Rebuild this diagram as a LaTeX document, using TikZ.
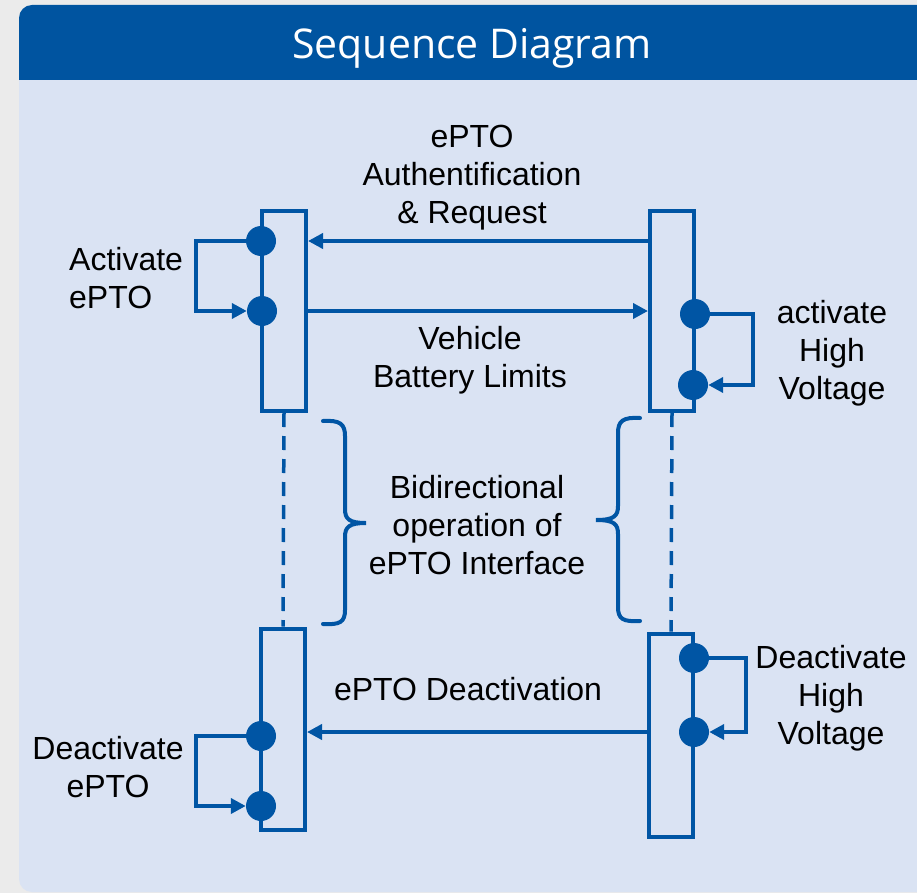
\documentclass[tikz,border=0pt]{standalone}
\usepackage{fontspec}
\setmainfont{Liberation Sans}
\newfontfamily\headfont{Open Sans}
\usetikzlibrary{arrows.meta}
\definecolor{deepblue}{HTML}{0054A0}
\definecolor{lineblue}{HTML}{0055A4}
\definecolor{paleblue}{HTML}{DAE3F3}
\definecolor{mist}{HTML}{EBEBEB}

\begin{document}
\begin{tikzpicture}[x=1pt,y=-1pt,
  lbl/.style={font=\fontsize{32}{38}\selectfont,align=center,text=black,inner sep=0pt},
  life/.style={draw=lineblue,line width=4pt,minimum width=44pt,inner sep=0pt},
  dot/.style={circle,fill=lineblue,minimum size=30pt,inner sep=0pt},
  msg/.style={-{Triangle[length=15pt,width=15pt]},line width=4pt,draw=lineblue},
  trail/.style={draw=lineblue,line width=3.5pt,dash pattern=on 14pt off 9pt},
  brc/.style={draw=lineblue,line width=4pt,line cap=round},
]
\useasboundingbox (0,0) rectangle (917,893);
\clip (0,0) rectangle (917,893);

% Panel with header bar.
\fill[mist] (0,0) rectangle (917,893);
\fill[deepblue,rounded corners=13pt] (19,5) rectangle (940,100);
\fill[paleblue] (19,80) rectangle (940,860);
\fill[paleblue,rounded corners=13pt] (19,800) rectangle (940,892);
\node[font=\headfont\fontsize{41}{48}\selectfont,text=white] (title) at (472,48)
  {Sequence Diagram};

% Activation boxes.
\node[life,minimum height=200pt] (ltop) at (284,311) {};
\node[life,minimum height=200pt] (rtop) at (672,311) {};
\node[life,minimum height=201pt] (lbot) at (283,729) {};
\node[life,minimum height=203pt] (rbot) at (671,735) {};

% Lifelines between them.
\draw[trail] (ltop.south) -- (lbot.north);
\draw[trail] (rtop.south) -- (rbot.north);

% Event dots on the box edges.
\node[dot] (lt1) at (261,241) {};
\node[dot] (lt2) at (262,311) {};
\node[dot] (rt1) at (695,314) {};
\node[dot] (rt2) at (693,385) {};
\node[dot] (lb1) at (261,736) {};
\node[dot] (lb2) at (261,806) {};
\node[dot] (rb1) at (694,658) {};
\node[dot] (rb2) at (694,732) {};

% Self messages.
\draw[msg] (lt1.west) -- ++(-50,0) |- (lt2);
\draw[msg] (rt1.east) -- ++(43,0) |- (rt2);
\draw[msg] (lb1.west) -- ++(-50,0) |- (lb2);
\draw[msg] (rb1.east) -- ++(37,0) |- (rb2);

% Messages between the two sides.
\draw[msg] (rtop.west |- lt1) -- (ltop.east |- lt1);
\draw[msg] (ltop.east |- lt2) -- (rtop.west |- lt2);
\draw[msg] (rbot.west |- rb2) -- (lbot.east |- rb2);

% Braces round the middle phase.
\draw[brc] (323,421) .. controls (340,420) and (345,424) .. (345,436)
  -- (345,509) .. controls (345,519) and (349,523) .. (366,523)
  .. controls (349,523) and (345,527) .. (345,537)
  -- (345,610) .. controls (345,622) and (340,625) .. (323,624);
\draw[brc] (640,418) .. controls (623,417) and (618,421) .. (618,433)
  -- (618,506) .. controls (618,516) and (614,520) .. (596,520)
  .. controls (614,520) and (618,524) .. (618,534)
  -- (618,607) .. controls (618,619) and (623,622) .. (640,621);

% Labels.
\node[lbl] (reqlbl) at (472,178) {ePTO\\Authentification\\\& Request};
\node[lbl,align=left,anchor=west] (actlbl) at (69,278) {Activate\\ePTO};
\node[lbl] (limlbl) at (470,360) {Vehicle\\Battery Limits};
\node[lbl] (hvlbl) at (832,353) {activate\\High\\Voltage};
\node[lbl] (bidilbl) at (477,525) {Bidirectional\\operation of\\ePTO Interface};
\node[lbl] (offlbl) at (468,689) {ePTO Deactivation};
\node[lbl] (deactlbl) at (108,767) {Deactivate\\ePTO};
\node[lbl] (dhvlbl) at (831,698) {Deactivate\\High\\Voltage};

\end{tikzpicture}
\end{document}
